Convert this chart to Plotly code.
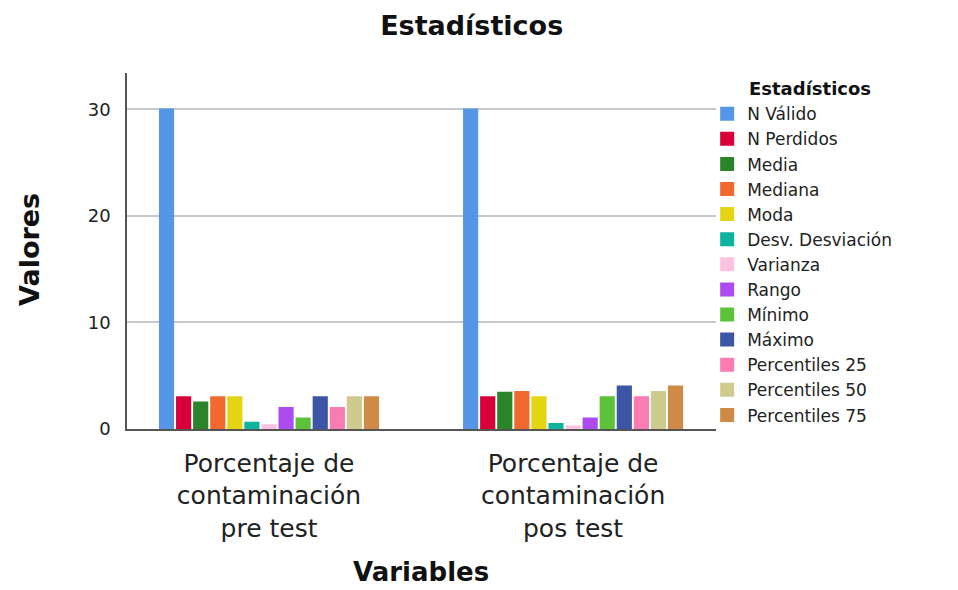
import plotly.graph_objects as go

categories = ["Porcentaje de<br>contaminación<br>pre test", "Porcentaje de<br>contaminación<br>pos test"]
series_names = ["N Válido", "N Perdidos", "Media", "Mediana", "Moda", "Desv. Desviación",
                "Varianza", "Rango", "Mínimo", "Máximo", "Percentiles 25", "Percentiles 50",
                "Percentiles 75"]
pre_values = [30, 3, 2.5, 3, 3, 0.62, 0.38, 2, 1, 3, 2, 3, 3]
pos_values = [30, 3, 3.43, 3.5, 3, 0.5, 0.25, 1, 3, 4, 3, 3.5, 4]
colors = ["#5596e6", "#d8003a", "#2a852a", "#f2692f", "#e3d512", "#0eb3a0",
          "#fcc3e1", "#ac4cf0", "#5dc23a", "#3c56a6", "#fb7bb3", "#cfca8e", "#cf8a45"]
y_ticks = [0, 10, 20, 30]

fig = go.Figure()
for i, name in enumerate(series_names):
    fig.add_trace(go.Bar(
        x=categories, y=[pre_values[i], pos_values[i]], name=name,
        marker=dict(color=colors[i], line=dict(width=1.5, color=colors[i])),
    ))

ff = "DejaVu Sans, Liberation Sans, Arial, sans-serif"
# plot area (figure coords): x 119..708, y 65..421 ; page is offset by 8px body margin
PW, PH = 589, 356
fig.update_layout(
    width=958, height=590,
    paper_bgcolor="white", plot_bgcolor="white",
    font=dict(family=ff, color="#222222"),
    barmode="group", bargap=0.27, bargroupgap=0.2,
    margin=dict(l=119, r=250, t=65, b=169, autoexpand=False),
    title=dict(text="<b>Estadísticos</b>", x=0.484, xanchor="center", y=0.971, yanchor="middle",
               font=dict(size=27, color="#111111", family=ff)),
    showlegend=True,
    legend=dict(
        x=0.985, xanchor="left", y=0.935, yanchor="top",
        font=dict(size=17, color="#222222", family=ff),
        tracegroupgap=0, itemsizing="constant",
        bgcolor="rgba(0,0,0,0)",
    ),
    annotations=[
        dict(text="<b>Estadísticos</b>", xref="paper", yref="paper",
             x=(747 - 127) / PW, xanchor="left", y=(429 - 88) / PH, yanchor="middle",
             showarrow=False, font=dict(size=18, color="#111111", family=ff)),
        dict(text="<b>Variables</b>", xref="paper", yref="paper",
             x=(421 - 127) / PW, xanchor="center", y=-(572 - 429) / PH, yanchor="middle",
             showarrow=False, font=dict(size=26, color="#111111", family=ff)),
        dict(text="<b>Valores</b>", xref="paper", yref="paper", textangle=-90,
             x=(29 - 127) / PW, xanchor="center", y=(429 - 250) / PH, yanchor="middle",
             showarrow=False, font=dict(size=27, color="#111111", family=ff)),
    ],
    xaxis=dict(
        range=[-0.467, 1.47], automargin=False,
        showline=True, linecolor="#555555", linewidth=1.5,
        ticks="", tickfont=dict(size=25, color="#222222", family=ff),
        ticklabelstandoff=11,
    ),
    yaxis=dict(
        range=[0, 33.4], tickvals=y_ticks, ticks="", automargin=False,
        showline=True, linecolor="#555555", linewidth=1.5,
        showgrid=True, gridcolor="#c8c8c8", gridwidth=1.5, zeroline=False,
        tickfont=dict(size=18, color="#222222", family=ff),
        ticklabelstandoff=11,
    ),
)

fig.write_html("out.html")
